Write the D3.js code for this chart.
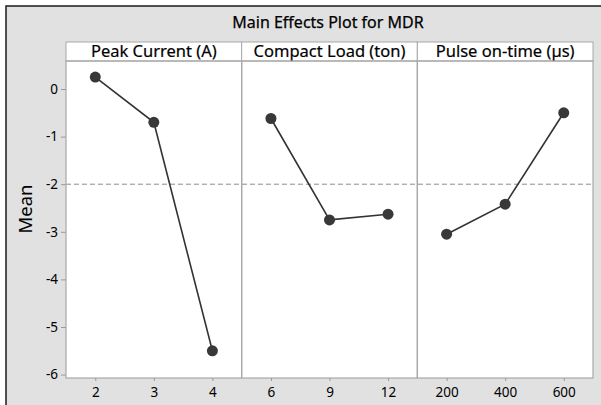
<!DOCTYPE html>
<html>
<head>
<meta charset="utf-8">
<script src="https://cdn.jsdelivr.net/npm/d3@7"></script>
<style>
  html, body { margin: 0; padding: 0; background: #fff; }
  svg { display: block; font-family: "Noto Sans", "Open Sans", sans-serif; }
</style>
</head>
<body>
<div class="main-effects"></div>
<script>
// factors and their level labels
const factors = ['Peak Current (A)', 'Compact Load (ton)', 'Pulse on-time (\u00b5s)'];
const peakLevels = ['2', '3', '4'];
const loadLevels = ['6', '9', '12'];
const pulseLevels = ['200', '400', '600'];
// mean MDR at each level
const peakMeans = [0.25, -0.70, -5.50];
const loadMeans = [-0.62, -2.75, -2.63];
const pulseMeans = [-3.05, -2.42, -0.50];
const grandMean = -2;
const yTicks = [0, -1, -2, -3, -4, -5, -6];

const levels = [peakLevels, loadLevels, pulseLevels];
const means = [peakMeans, loadMeans, pulseMeans];

const width = 601, height = 405;
const plotLeft = 66, plotRight = 593, headTop = 42, plotTop = 61, plotBottom = 378;
const panelW = (plotRight - plotLeft) / 3;

const svg = d3.select('.main-effects')
  .append('svg')
  .attr('width', width)
  .attr('height', height);

// grey frame
svg.append('rect')
  .attr('x', 6).attr('y', 6)
  .attr('width', 620).attr('height', 420)
  .style('fill', '#e1e1e1')
  .style('stroke', '#1a1a1a')
  .style('stroke-width', 1.5);

svg.append('text')
  .attr('x', 328)
  .attr('y', 28)
  .attr('text-anchor', 'middle')
  .style('font-size', '16px')
  .style('fill', '#000')
  .style('stroke', '#000')
  .style('stroke-width', 0.25)
  .text('Main Effects Plot for MDR');

const y = d3.scaleLinear().domain([-6, 0]).range([374.6, 89]);

// white plotting area and headers
svg.append('rect')
  .attr('x', plotLeft).attr('y', headTop)
  .attr('width', plotRight - plotLeft).attr('height', plotBottom - headTop)
  .style('fill', '#fff');

svg.append('line')
  .attr('x1', plotLeft).attr('x2', plotRight)
  .attr('y1', y(grandMean)).attr('y2', y(grandMean))
  .style('stroke', '#8a8a8a')
  .style('stroke-width', 1)
  .style('stroke-dasharray', '5,3');

const yAxis = svg.append('g')
  .attr('transform', `translate(${plotLeft},0)`)
  .call(d3.axisLeft(y).tickValues(yTicks).tickSize(5).tickPadding(3).tickFormat(d => String(d)));
yAxis.select('.domain').remove();
yAxis.selectAll('line').style('stroke', '#999');
yAxis.selectAll('text')
  .style('font-size', '13.5px')
  .style('fill', '#000')
  .style('font-family', '"Noto Sans", sans-serif');

svg.append('text')
  .attr('transform', 'translate(32,209) rotate(-90)')
  .attr('text-anchor', 'middle')
  .style('font-size', '18.5px')
  .style('fill', '#000')
  .text('Mean');

const line = d3.line();

factors.forEach(function(name, i) {
  const x0 = plotLeft + i * panelW;
  const x = d3.scalePoint()
    .domain(levels[i])
    .range([x0, x0 + panelW])
    .padding(0.5);

  const g = svg.append('g');

  // header cell
  g.append('rect')
    .attr('x', x0).attr('y', headTop)
    .attr('width', panelW).attr('height', plotTop - headTop)
    .style('fill', '#fff')
    .style('stroke', '#a8a8a8')
    .style('stroke-width', 1);

  g.append('text')
    .attr('x', x0 + panelW / 2)
    .attr('y', plotTop - 4)
    .attr('text-anchor', 'middle')
    .style('font-size', '16.5px')
    .style('fill', '#000')
    .style('stroke', '#000')
    .style('stroke-width', 0.2)
    .text(name);

  // panel border
  g.append('rect')
    .attr('x', x0).attr('y', plotTop)
    .attr('width', panelW).attr('height', plotBottom - plotTop)
    .style('fill', 'none')
    .style('stroke', '#a8a8a8')
    .style('stroke-width', 1.2);

  const xAxis = g.append('g')
    .attr('transform', `translate(0,${plotBottom})`)
    .call(d3.axisBottom(x).tickSize(3).tickPadding(6));
  xAxis.select('.domain').remove();
  xAxis.selectAll('line').style('stroke', '#999');
  xAxis.selectAll('text')
    .style('font-size', '13.5px')
    .style('fill', '#000')
    .style('font-family', '"Noto Sans", sans-serif');

  const pts = levels[i].map(function(l, j) { return [x(l), y(means[i][j])]; });

  g.append('path')
    .attr('d', line(pts))
    .style('fill', 'none')
    .style('stroke', '#333')
    .style('stroke-width', 1.6);

  g.selectAll('circle')
    .data(pts)
    .enter()
    .append('circle')
    .attr('cx', d => d[0])
    .attr('cy', d => d[1])
    .attr('r', 5.5)
    .style('fill', '#383838');
});
</script>
</body>
</html>
